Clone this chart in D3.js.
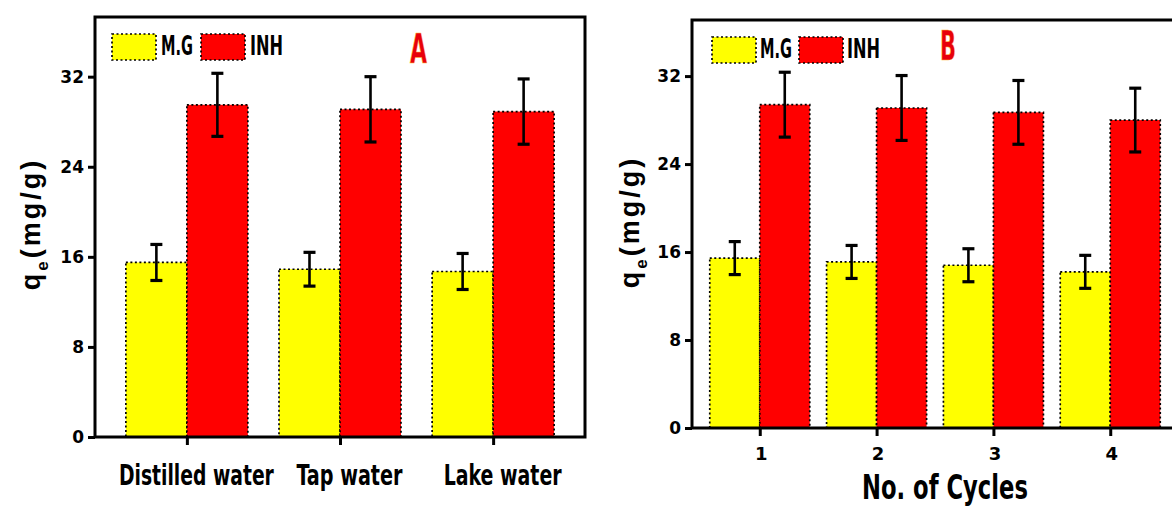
<!DOCTYPE html>
<html>
<head>
<meta charset="utf-8">
<script src="https://cdn.jsdelivr.net/npm/d3@7"></script>
<style>
  body { margin: 0; background: #fff; }
  .cond { font-family: "DejaVu Sans Condensed", "DejaVu Sans", sans-serif; font-stretch: condensed; font-weight: bold; }
  .num { font-family: "DejaVu Sans", sans-serif; font-weight: bold; }
  .lab { font-family: "Liberation Sans", Arial, sans-serif; font-weight: bold; }
</style>
</head>
<body>
<div id="chart"></div>
<script>
// panel A data: adsorption in different water samples
var waterTypes = ["Distilled water", "Tap water", "Lake water"];
var mgWater = [15.5, 14.9, 14.7];
var mgWaterErr = [1.6, 1.5, 1.6];
var inhWater = [29.5, 29.1, 28.9];
var inhWaterErr = [2.8, 2.9, 2.9];

// panel B data: reuse cycles
var cycles = ["1", "2", "3", "4"];
var mgCycle = [15.45, 15.1, 14.8, 14.2];
var mgCycleErr = [1.5, 1.5, 1.5, 1.5];
var inhCycle = [29.4, 29.1, 28.7, 28.0];
var inhCycleErr = [2.95, 2.95, 2.9, 2.9];

var yTicks = [0, 8, 16, 24, 32];
var seriesNames = ["M.G", "INH"];
var seriesColors = ["#ffff00", "#ff0000"];

// rendered widths of the condensed labels (squeezed to look like the original font)
var condWidth = {
    "Distilled water": 155, "Tap water": 106, "Lake water": 118,
    "No. of Cycles": 166, "M.G": 32, "INH": 33, "A": 17, "B": 16
};

var svg = d3.select("#chart").append("svg")
    .attr("width", 1172)
    .attr("height", 506);

// squeeze text horizontally with a transform so its box matches the target width
function squeeze(sel) {
    sel.each(function() {
        var t = d3.select(this);
        var x0 = +(t.attr("x") || 0) + +(t.attr("dx") || 0);
        var len = this.getComputedTextLength();
        var sx = condWidth[this.textContent] / len;
        t.attr("x", 0).attr("dx", null)
            .attr("transform", "translate(" + x0 + ",0) scale(" + sx + ",1)");
    });
}

function drawPanel(opt) {
    var g = svg.append("g");

    var x = d3.scalePoint()
        .domain(opt.categories)
        .range([opt.left, opt.right])
        .padding(opt.padding);
    var y = d3.scaleLinear()
        .domain([0, opt.yMax])
        .range([opt.bottom, opt.top]);

    var series = [
        { values: opt.mg, err: opt.mgErr, color: seriesColors[0], off: -1 },
        { values: opt.inh, err: opt.inhErr, color: seriesColors[1], off: 0 }
    ];

    // bars
    series.forEach(function(s) {
        g.append("g").selectAll("rect")
            .data(opt.categories)
            .enter()
            .append("rect")
            .attr("x", function(d) { return x(d) + s.off * opt.barW; })
            .attr("y", function(d, i) { return y(s.values[i]); })
            .attr("width", opt.barW)
            .attr("height", function(d, i) { return opt.bottom - y(s.values[i]); })
            .attr("fill", s.color)
            .attr("stroke", "#000")
            .attr("stroke-width", 1.7)
            .attr("stroke-dasharray", "2,2.5");
    });

    // error bars
    series.forEach(function(s) {
        var eb = g.append("g").attr("stroke", "#000").attr("stroke-width", 2.6);
        opt.categories.forEach(function(d, i) {
            var cx = x(d) + s.off * opt.barW + opt.barW / 2;
            var hi = y(s.values[i] + s.err[i]), lo = y(s.values[i] - s.err[i]);
            eb.append("line").attr("x1", cx).attr("x2", cx).attr("y1", hi).attr("y2", lo);
            eb.append("line").attr("x1", cx - 6).attr("x2", cx + 6).attr("y1", hi).attr("y2", hi).attr("stroke-width", 3.2);
            eb.append("line").attr("x1", cx - 6).attr("x2", cx + 6).attr("y1", lo).attr("y2", lo).attr("stroke-width", 3.2);
        });
    });

    // frame
    g.append("rect")
        .attr("x", opt.left)
        .attr("y", opt.top)
        .attr("width", opt.right - opt.left)
        .attr("height", opt.bottom - opt.top)
        .attr("fill", "none")
        .attr("stroke", "#000")
        .attr("stroke-width", 3);

    // y axis
    var yAxis = g.append("g")
        .attr("transform", "translate(" + opt.left + ",0)")
        .call(d3.axisLeft(y).tickValues(yTicks).tickSize(7).tickPadding(4));
    yAxis.select(".domain").remove();
    yAxis.selectAll("line").attr("stroke-width", 3);
    yAxis.selectAll("text")
        .attr("class", "num")
        .style("font-size", "17px")
        .attr("fill", "#000");

    // x axis
    var xAxis = g.append("g")
        .attr("transform", "translate(0," + opt.bottom + ")")
        .call(d3.axisBottom(x).tickSize(8).tickPadding(opt.xPad));
    xAxis.select(".domain").remove();
    xAxis.selectAll("line").attr("stroke-width", 3);
    xAxis.selectAll("text")
        .attr("class", opt.xClass)
        .style("font-size", opt.xFont)
        .attr("dx", opt.xDx)
        .attr("fill", "#000");
    if (opt.xClass == "cond") xAxis.selectAll("text").call(squeeze);

    // y label
    var yl = g.append("text")
        .attr("class", "lab")
        .attr("transform", "translate(" + opt.yLabX + "," + opt.yLabY + ") rotate(-90)")
        .attr("text-anchor", "middle")
        .style("font-size", "27px")
        .style("letter-spacing", "3px");
    yl.append("tspan").text("q");
    yl.append("tspan").attr("dy", 8).style("font-size", "17px").text("e");
    yl.append("tspan").attr("dy", -8).text("(mg/g)");

    // legend
    var lg = g.append("g");
    [opt.legX, opt.legX2].forEach(function(lx, i) {
        lg.append("rect")
            .attr("x", lx)
            .attr("y", opt.legY)
            .attr("width", 44)
            .attr("height", 26)
            .attr("fill", seriesColors[i])
            .attr("stroke", "#000")
            .attr("stroke-width", 1.7)
            .attr("stroke-dasharray", "2,2.5");
        lg.append("text")
            .attr("class", "cond")
            .attr("x", lx + opt.legGap)
            .attr("y", opt.legY + 21)
            .style("font-size", "26px")
            .attr("fill", "#000")
            .text(seriesNames[i])
            .call(squeeze);
    });

    // panel letter
    g.append("text")
        .attr("class", "cond")
        .attr("x", opt.letterX)
        .attr("y", opt.letterY)
        .style("font-size", "40px")
        .attr("fill", "#e8000b")
        .attr("stroke", "#ffbb33")
        .attr("stroke-width", 0.6)
        .text(opt.letter)
        .call(squeeze);

    if (opt.xTitle) {
        g.append("text")
            .attr("class", "cond")
            .attr("x", 945)
            .attr("y", 499)
            .attr("text-anchor", "middle")
            .style("font-size", "33px")
            .attr("fill", "#000")
            .text(opt.xTitle)
            .call(squeeze);
    }
}

drawPanel({
    categories: waterTypes, mg: mgWater, mgErr: mgWaterErr, inh: inhWater, inhErr: inhWaterErr,
    left: 95, right: 585, top: 17, bottom: 437, yMax: 37.3, padding: 0.6, barW: 61,
    xPad: 19, xFont: "29px", xClass: "cond", xDx: "9",
    yLabX: 40, yLabY: 224,
    legX: 112, legX2: 201, legY: 34, legGap: 49,
    letter: "A", letterX: 410, letterY: 63
});

drawPanel({
    categories: cycles, mg: mgCycle, mgErr: mgCycleErr, inh: inhCycle, inhErr: inhCycleErr,
    left: 692, right: 1178, top: 20, bottom: 428, yMax: 37.1, padding: 0.58, barW: 50,
    xPad: 11, xFont: "18px", xClass: "num", xDx: "1",
    yLabX: 639, yLabY: 222,
    legX: 712, legX2: 799, legY: 37, legGap: 48,
    letter: "B", letterX: 940, letterY: 60,
    xTitle: "No. of Cycles"
});
</script>
</body>
</html>
